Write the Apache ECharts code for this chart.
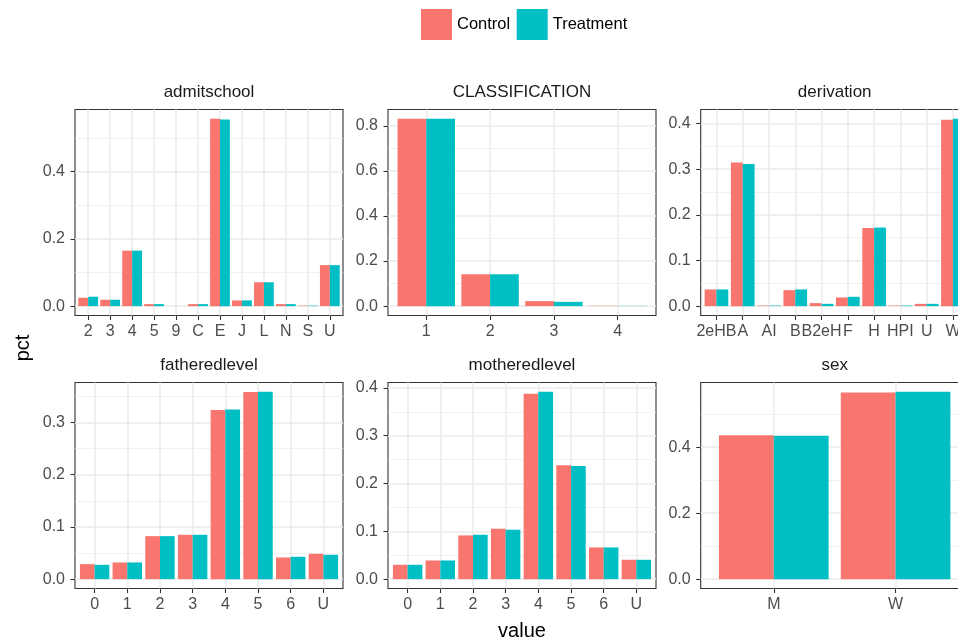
<!DOCTYPE html>
<html>
<head>
<meta charset="utf-8">
<script src="https://cdn.jsdelivr.net/npm/echarts@6/dist/echarts.min.js"></script>
<style>
  html, body { margin: 0; padding: 0; background: #ffffff; }
  #chart { width: 958px; height: 644px; }
</style>
</head>
<body>
<div id="chart"></div>
<script>
// ---- data -------------------------------------------------------------
const groups = ['Control', 'Treatment'];

const admitschoolCats = ['2', '3', '4', '5', '9', 'C', 'E', 'J', 'L', 'N', 'S', 'U'];
const admitschoolControl = [0.025, 0.019, 0.165, 0.006, 0, 0.006, 0.557, 0.017, 0.071, 0.006, 0.0015, 0.122];
const admitschoolTreatment = [0.028, 0.019, 0.165, 0.006, 0, 0.006, 0.555, 0.017, 0.071, 0.006, 0.0015, 0.122];
const admitschoolTicks = [0, 0.2, 0.4];
const admitschoolMinor = [0.1, 0.3, 0.5];

const classificationCats = ['1', '2', '3', '4'];
const classificationControl = [0.831, 0.142, 0.022, 0.0015];
const classificationTreatment = [0.831, 0.142, 0.019, 0.001];
const classificationTicks = [0, 0.2, 0.4, 0.6, 0.8];
const classificationMinor = [0.1, 0.3, 0.5, 0.7];

const derivationCats = ['2eHB', 'A', 'AI', 'B', 'B2eH', 'F', 'H', 'HPI', 'U', 'W'];
const derivationControl = [0.0365, 0.3146, 0.0012, 0.035, 0.0066, 0.019, 0.1708, 0.0012, 0.005, 0.408];
const derivationTreatment = [0.0365, 0.311, 0.0012, 0.0365, 0.005, 0.0204, 0.172, 0.0012, 0.005, 0.410];
const derivationTicks = [0, 0.1, 0.2, 0.3, 0.4];
const derivationMinor = [0.05, 0.15, 0.25, 0.35];

const fatheredlevelCats = ['0', '1', '2', '3', '4', '5', '6', 'U'];
const fatheredlevelControl = [0.0287, 0.0319, 0.0823, 0.0849, 0.324, 0.358, 0.0415, 0.0485];
const fatheredlevelTreatment = [0.0274, 0.0319, 0.0823, 0.0849, 0.3248, 0.3585, 0.0428, 0.0466];
const fatheredlevelTicks = [0, 0.1, 0.2, 0.3];
const fatheredlevelMinor = [0.05, 0.15, 0.25, 0.35];

const motheredlevelCats = ['0', '1', '2', '3', '4', '5', '6', 'U'];
const motheredlevelControl = [0.030, 0.039, 0.0914, 0.1054, 0.3874, 0.238, 0.0663, 0.0405];
const motheredlevelTreatment = [0.030, 0.039, 0.0928, 0.1033, 0.3916, 0.2366, 0.0663, 0.0405];
const motheredlevelTicks = [0, 0.1, 0.2, 0.3, 0.4];
const motheredlevelMinor = [0.05, 0.15, 0.25, 0.35];

const sexCats = ['M', 'W'];
const sexControl = [0.4364, 0.5657];
const sexTreatment = [0.4343, 0.5677];
const sexTicks = [0, 0.2, 0.4];
const sexMinor = [0.1, 0.3, 0.5];

const panels = [
  { title: 'admitschool', cats: admitschoolCats, control: admitschoolControl, treatment: admitschoolTreatment, ticks: admitschoolTicks, minor: admitschoolMinor },
  { title: 'CLASSIFICATION', cats: classificationCats, control: classificationControl, treatment: classificationTreatment, ticks: classificationTicks, minor: classificationMinor },
  { title: 'derivation', cats: derivationCats, control: derivationControl, treatment: derivationTreatment, ticks: derivationTicks, minor: derivationMinor },
  { title: 'fatheredlevel', cats: fatheredlevelCats, control: fatheredlevelControl, treatment: fatheredlevelTreatment, ticks: fatheredlevelTicks, minor: fatheredlevelMinor },
  { title: 'motheredlevel', cats: motheredlevelCats, control: motheredlevelControl, treatment: motheredlevelTreatment, ticks: motheredlevelTicks, minor: motheredlevelMinor },
  { title: 'sex', cats: sexCats, control: sexControl, treatment: sexTreatment, ticks: sexTicks, minor: sexMinor }
];

// ---- styling / layout ---------------------------------------------------
const FONT = 'Liberation Sans, Arial, Helvetica, sans-serif';
const COLORS = ['#F8766D', '#00BFC4'];
const GRID_COLOR = '#EBEBEB';
const BORDER_COLOR = '#333333';
const colLeft = [75, 388, 700.7];
const rowTop = [109.5, 382.5];
const panelW = 268;
const panelH = 206;

const grids = [], xAxes = [], yAxes = [], series = [], graphics = [];

panels.forEach((p, i) => {
  const L = colLeft[i % 3];
  const T = rowTop[Math.floor(i / 3)];
  const n = p.cats.length;
  // discrete scale: 0.6 units of padding on each side of the outer categories
  const unit = panelW / (n - 1 + 1.2);
  const inset = 0.6 * unit;
  const dataMax = Math.max(...p.control, ...p.treatment);
  const yMin = -0.05 * dataMax;
  const yMax = 1.05 * dataMax;

  // outer panel: border, horizontal grid and y labels
  grids.push({ left: L, top: T, width: panelW, height: panelH, show: true,
    outerBoundsMode: 'none', containLabel: false,
    borderColor: BORDER_COLOR, borderWidth: 1.1, backgroundColor: '#ffffff' });
  // inner plotting area: categories sit on its edges
  grids.push({ left: L + inset, top: T, width: panelW - 2 * inset, height: panelH,
    outerBoundsMode: 'none', containLabel: false });

  xAxes.push({ type: 'value', gridIndex: 2 * i, min: 0, max: 1, show: false });
  xAxes.push({
    type: 'category', gridIndex: 2 * i + 1, data: p.cats, boundaryGap: false,
    axisLine: { show: false, onZero: false },
    axisTick: { show: true, length: 4.5, lineStyle: { color: BORDER_COLOR, width: 1.1 } },
    axisLabel: { interval: 0, color: '#4D4D4D', fontSize: 16, fontFamily: FONT, margin: 8, hideOverlap: false },
    splitLine: { show: true, lineStyle: { color: GRID_COLOR, width: 1.5 } }
  });

  yAxes.push({
    type: 'value', gridIndex: 2 * i, min: yMin, max: yMax,
    axisLine: { show: false, onZero: false },
    axisTick: { show: true, length: 4.5, customValues: p.ticks, lineStyle: { color: BORDER_COLOR, width: 1.1 } },
    axisLabel: { customValues: p.ticks, formatter: v => v.toFixed(1), color: '#4D4D4D', fontSize: 16, fontFamily: FONT, margin: 10 },
    splitLine: { show: true, customValues: p.ticks, lineStyle: { color: GRID_COLOR, width: 1.5 } }
  });
  yAxes.push({
    type: 'value', gridIndex: 2 * i, min: yMin, max: yMax, position: 'right',
    axisLine: { show: false, onZero: false },
    axisTick: { show: false, customValues: p.minor },
    axisLabel: { show: false, customValues: p.minor },
    splitLine: { show: true, customValues: p.minor, lineStyle: { color: GRID_COLOR, width: 0.75 } }
  });
  yAxes.push({ type: 'value', gridIndex: 2 * i + 1, min: yMin, max: yMax, show: false });

  [p.control, p.treatment].forEach((vals, g) => {
    series.push({
      type: 'bar', name: groups[g], xAxisIndex: 2 * i + 1, yAxisIndex: 3 * i + 2,
      data: vals, barWidth: '45%', barGap: '0%', clip: false,
      itemStyle: { color: COLORS[g] }, emphasis: { disabled: true }, silent: true
    });
  });

  graphics.push({
    type: 'text', x: L + panelW / 2, y: T - 17, silent: true,
    style: { text: p.title, fill: '#1A1A1A', font: '17px ' + FONT, align: 'center', verticalAlign: 'middle' }
  });
});

graphics.push({
  type: 'text', x: 23, y: 348, rotation: Math.PI / 2, silent: true,
  style: { text: 'pct', fill: '#000000', font: '20px ' + FONT, align: 'center', verticalAlign: 'middle' }
});
graphics.push({
  type: 'text', x: 522, y: 631, silent: true,
  style: { text: 'value', fill: '#000000', font: '20px ' + FONT, align: 'center', verticalAlign: 'middle' }
});

const chart = echarts.init(document.getElementById('chart'), null, { renderer: 'canvas' });
chart.setOption({
  animation: false,
  backgroundColor: '#ffffff',
  legend: {
    data: groups, left: 421, top: 9, padding: 0, icon: 'rect',
    itemWidth: 31, itemHeight: 31, itemGap: 6.5,
    textStyle: { fontSize: 16.5, color: '#000000', fontFamily: FONT },
    selectedMode: false
  },
  grid: grids,
  xAxis: xAxes,
  yAxis: yAxes,
  series: series,
  graphic: graphics
});
</script>
</body>
</html>
